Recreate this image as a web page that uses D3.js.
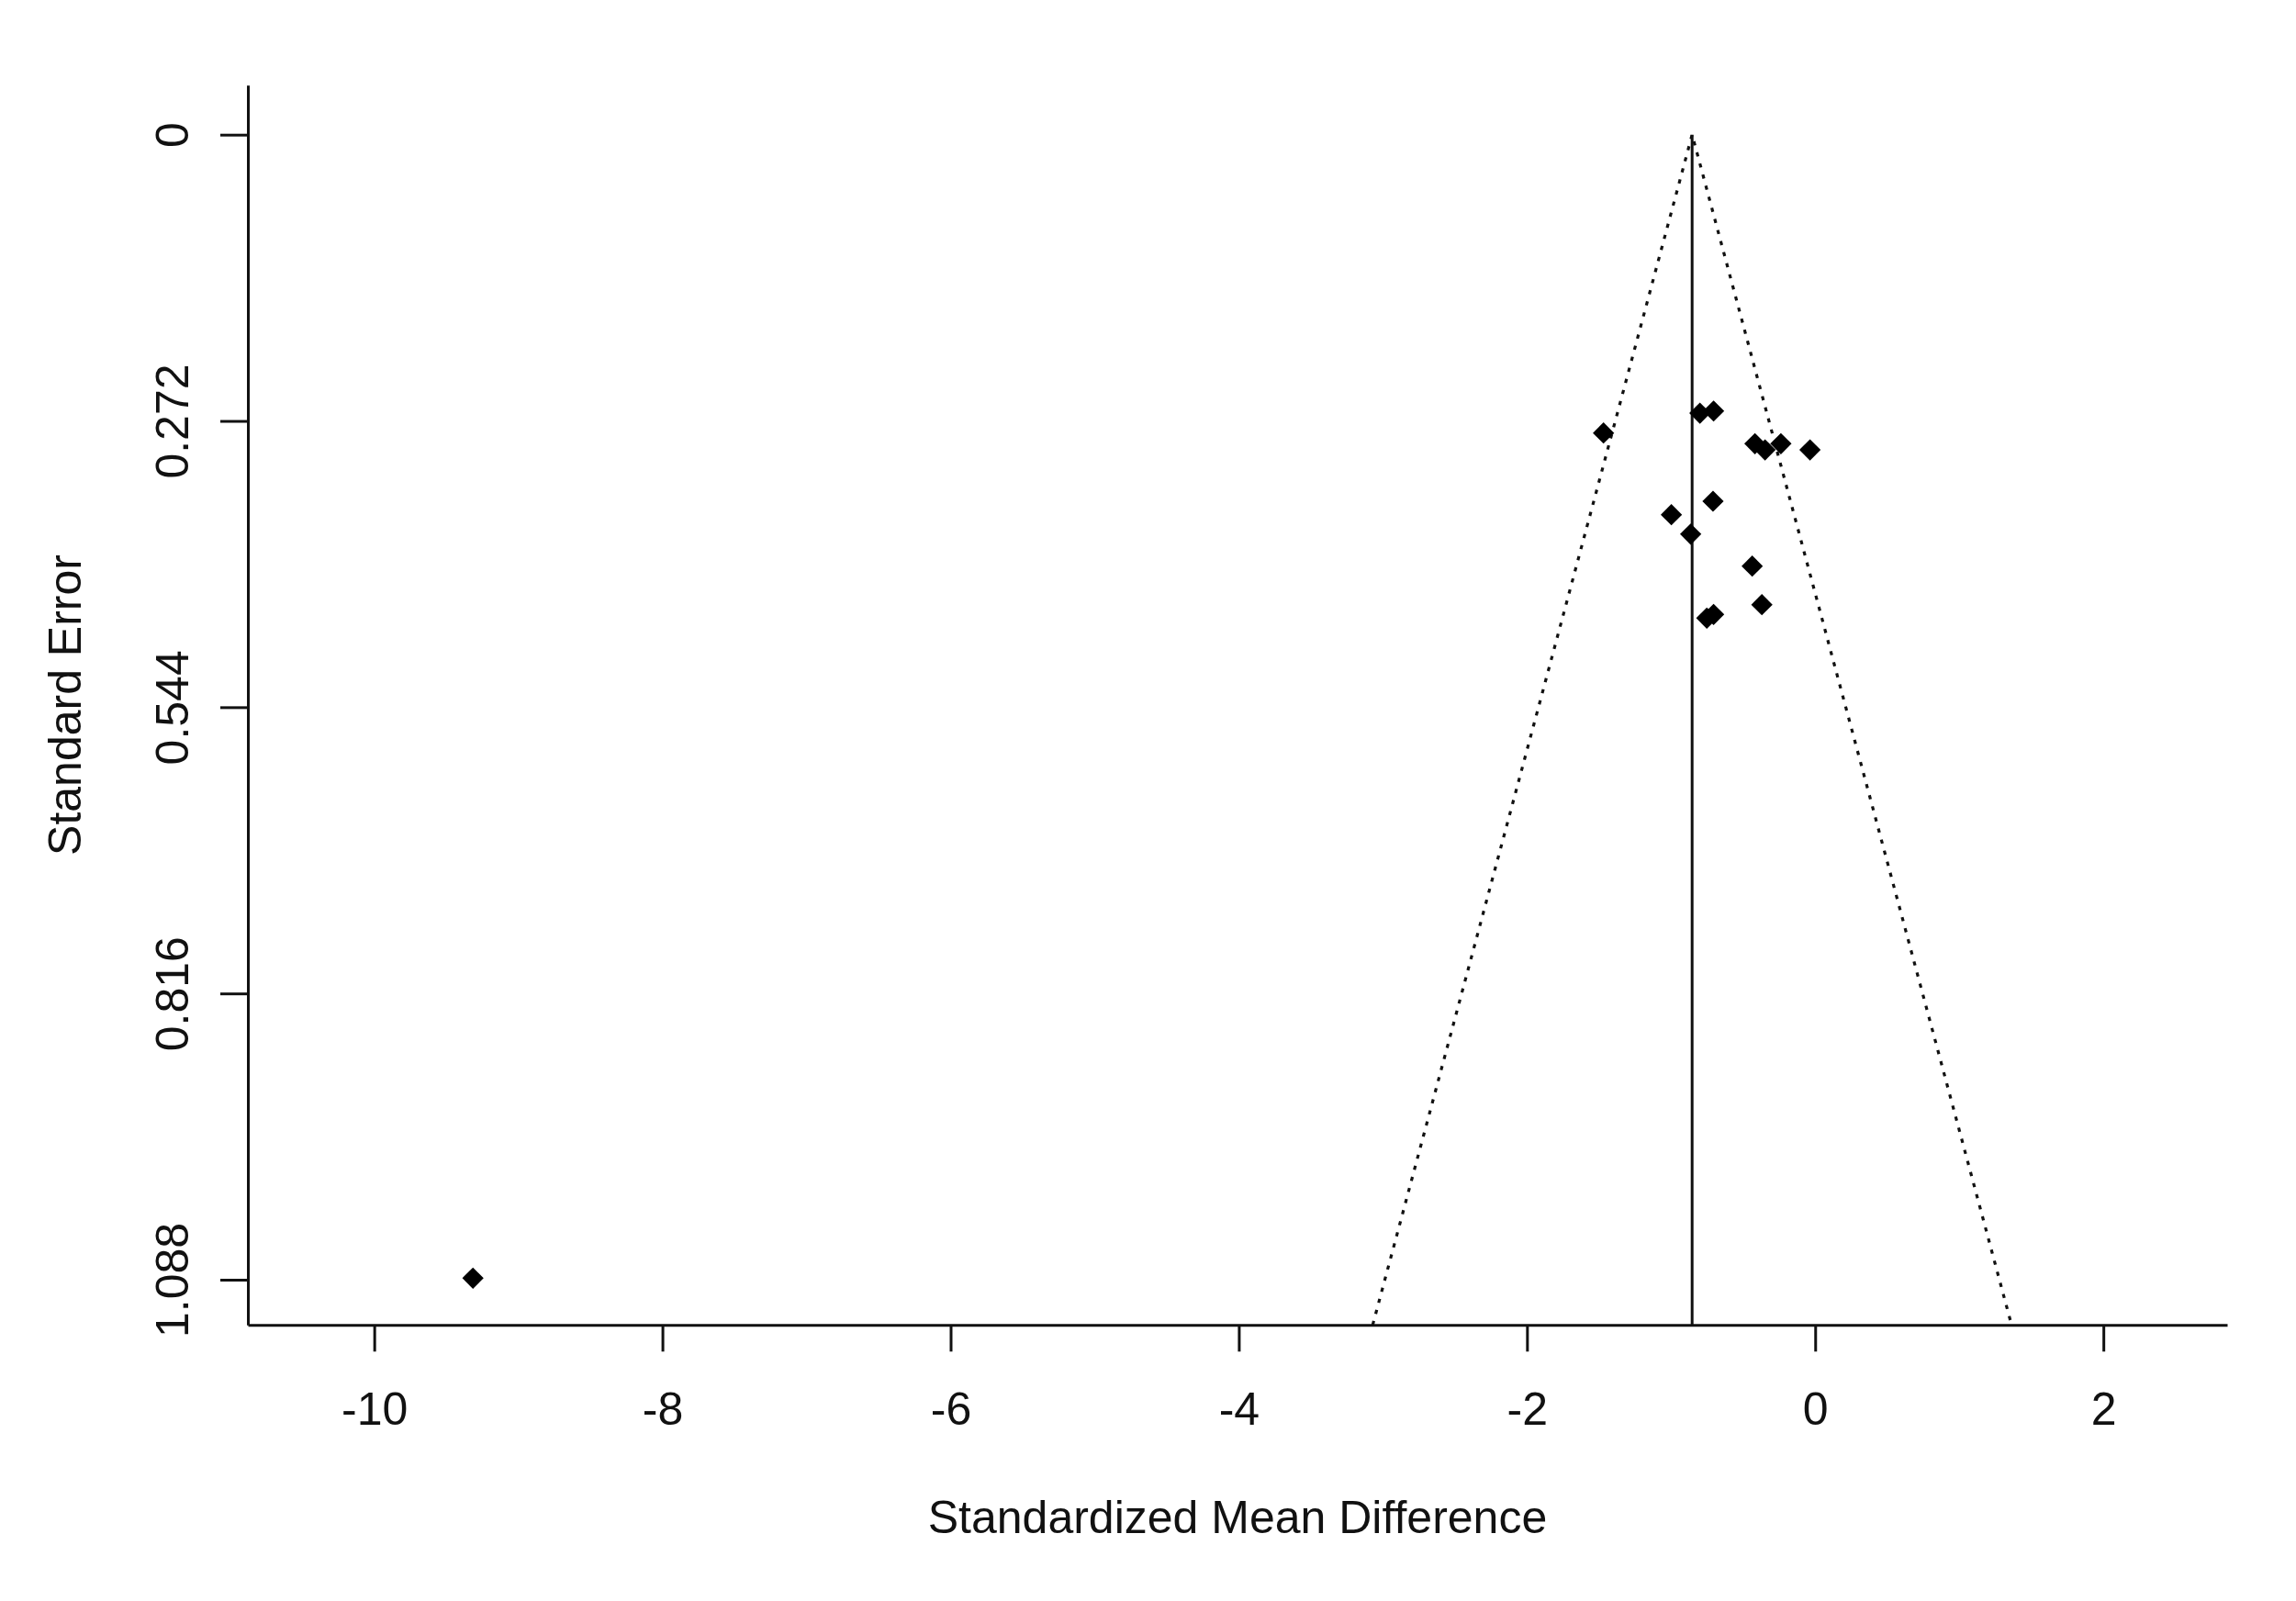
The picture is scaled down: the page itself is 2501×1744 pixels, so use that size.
<!DOCTYPE html>
<html>
<head>
<meta charset="utf-8">
<script src="https://cdn.jsdelivr.net/npm/d3@7"></script>
<style>
  body { margin: 0; background: #fff; }
  text { font-family: "Liberation Sans", Arial, sans-serif; fill: #111; }
</style>
</head>
<body>
<svg width="2501" height="1744"></svg>
<script>
// study effects (SMD) and their standard errors
const smd = [-1.469, -0.800, -0.705, -0.418, -0.348, -0.238, -0.036,
             -0.709, -0.998, -0.864, -0.437, -0.370, -0.752, -0.705, -9.315];
const se  = [0.2835, 0.2646, 0.2626, 0.2936, 0.2995, 0.2936, 0.2995,
             0.3483, 0.3611, 0.3795, 0.410, 0.4466, 0.4594, 0.4559, 1.0865];
const pooled = -0.854;

const xTicks = [-10, -8, -6, -4, -2, 0, 2];
const yTicks = [0, 0.272, 0.544, 0.816, 1.088];
const yTickLabels = ["0", "0.272", "0.544", "0.816", "1.088"];

const svg = d3.select("svg");

const x = d3.scaleLinear().domain([-10.877, 2.859]).range([270, 2426]);
const y = d3.scaleLinear().domain([-0.0471, 1.131]).range([92.7, 1443.3]);

const ink = "#111";

// funnel (pseudo confidence region)
const seMax = y.domain()[1];
const funnel = [[pooled - 1.96 * seMax, seMax], [pooled, 0], [pooled + 1.96 * seMax, seMax]];
svg.append("path")
   .datum(funnel)
   .attr("d", d3.line().x(d => x(d[0])).y(d => y(d[1])))
   .attr("fill", "none")
   .attr("stroke", ink)
   .attr("stroke-width", 3.2)
   .attr("stroke-dasharray", "4.5,8");

// pooled estimate line
svg.append("line")
   .attr("x1", x(pooled)).attr("x2", x(pooled))
   .attr("y1", y(0)).attr("y2", y(seMax))
   .attr("stroke", ink)
   .attr("stroke-width", 3);

// axes
const xAxis = svg.append("g")
   .attr("transform", `translate(0,${y.range()[1]})`)
   .call(d3.axisBottom(x).tickValues(xTicks).tickFormat(d3.format("d"))
         .tickSize(29).tickSizeOuter(0).tickPadding(44));

const yAxis = svg.append("g")
   .attr("transform", `translate(${x.range()[0]},0)`)
   .call(d3.axisLeft(y).tickValues(yTicks).tickFormat((d, i) => yTickLabels[i])
         .tickSize(30).tickSizeOuter(0));

[xAxis, yAxis].forEach(g => {
  g.select(".domain").attr("stroke", ink).attr("stroke-width", 3);
  g.selectAll(".tick line").attr("stroke", ink).attr("stroke-width", 3);
  g.selectAll("text").attr("font-size", 50).attr("fill", ink)
   .style("font-family", "'Liberation Sans', Arial, sans-serif");
});
xAxis.selectAll("text").text(d => d < 0 ? "-" + Math.abs(d) : d);

yAxis.selectAll(".tick text")
   .attr("x", 0)
   .attr("dy", 0)
   .attr("text-anchor", "middle")
   .attr("transform", "translate(-65,0) rotate(-90)");

// points
const pts = smd.map((d, i) => ({ smd: d, se: se[i] }));
svg.selectAll("path.pt")
   .data(pts)
   .enter()
   .append("path")
   .attr("class", "pt")
   .attr("d", d3.symbol().type(d3.symbolSquare).size(270))
   .attr("transform", d => `translate(${x(d.smd)},${y(d.se)}) rotate(45)`)
   .attr("fill", "#000");

// titles
svg.append("text")
   .attr("x", (x.range()[0] + x.range()[1]) / 2)
   .attr("y", 1670)
   .attr("text-anchor", "middle")
   .attr("font-size", 50)
   .text("Standardized Mean Difference");

svg.append("text")
   .attr("transform", `translate(88,${(y.range()[0] + y.range()[1]) / 2}) rotate(-90)`)
   .attr("text-anchor", "middle")
   .attr("font-size", 50)
   .text("Standard Error");
</script>
</body>
</html>
